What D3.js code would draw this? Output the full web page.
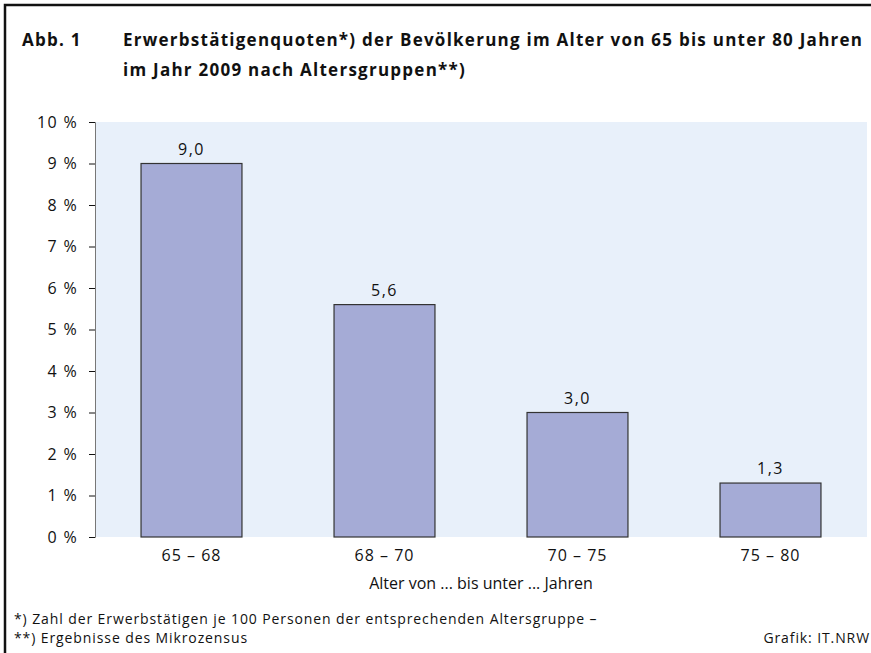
<!DOCTYPE html>
<html>
<head>
<meta charset="utf-8">
<script src="https://cdn.jsdelivr.net/npm/d3@7"></script>
<style>
  body { margin: 0; background: #fff; }
  text { font-family: "Open Sans", "Noto Sans", sans-serif; fill: #111; }
</style>
</head>
<body>
<div id="chart"></div>
<script>
(function () {
    // data
    var categories = ["65 \u2013 68", "68 \u2013 70", "70 \u2013 75", "75 \u2013 80"];
    var values = [9.0, 5.6, 3.0, 1.3];
    var yTicks = [0, 1, 2, 3, 4, 5, 6, 7, 8, 9, 10];

    var width = 871,
        height = 653,
        plot = {left: 95, right: 867, top: 122, bottom: 537};

    var svg = d3.select("#chart").append("svg")
        .attr("width", width)
        .attr("height", height);

    // frame
    svg.append("path")
        .attr("d", "M5," + height + "V5H" + width)
        .attr("fill", "none")
        .attr("stroke", "#111")
        .attr("stroke-width", 2.5);

    // title
    var title = svg.append("g")
        .style("font-weight", "bold")
        .style("font-size", "17px")
        .style("letter-spacing", "1.25px");
    title.append("text").attr("x", 22).attr("y", 46).text("Abb. 1");
    title.append("text").attr("x", 123).attr("y", 46)
        .text("Erwerbstätigenquoten*) der Bevölkerung im Alter von 65 bis unter 80 Jahren");
    title.append("text").attr("x", 123).attr("y", 76)
        .text("im Jahr 2009 nach Altersgruppen**)");

    var x = d3.scaleBand()
        .domain(categories)
        .range([plot.left, plot.right])
        .paddingInner(0.477)
        .paddingOuter(0.2385);

    var y = d3.scaleLinear()
        .domain([0, 10])
        .range([plot.bottom, plot.top]);

    svg.append("rect")
        .attr("x", plot.left)
        .attr("y", plot.top)
        .attr("width", plot.right - plot.left)
        .attr("height", plot.bottom - plot.top)
        .attr("fill", "#e8f0fa");

    // y axis
    var yAxis = svg.append("g")
        .attr("transform", "translate(" + plot.left + ",0)")
        .call(d3.axisLeft(y).tickValues(yTicks).tickSize(6).tickPadding(11)
            .tickFormat(function (d) { return d + " %"; }));
    yAxis.select(".domain").attr("stroke", "#777");
    yAxis.selectAll(".tick line").attr("stroke", "#111");
    yAxis.selectAll("text")
        .style("font-size", "16px")
        .style("letter-spacing", "1.3px")
        .attr("fill", "#111");

    // bars
    svg.append("g").selectAll("rect")
        .data(values)
        .enter().append("rect")
        .attr("x", function (d, i) { return x(categories[i]); })
        .attr("y", function (d) { return y(d); })
        .attr("width", x.bandwidth())
        .attr("height", function (d) { return y(0) - y(d); })
        .attr("fill", "#a5abd6")
        .attr("stroke", "#333")
        .attr("stroke-width", 1.2);

    // value labels
    svg.append("g").selectAll("text")
        .data(values)
        .enter().append("text")
        .attr("x", function (d, i) { return x(categories[i]) + x.bandwidth() / 2; })
        .attr("y", function (d) { return y(d) - 9; })
        .attr("text-anchor", "middle")
        .style("font-size", "16px")
        .style("letter-spacing", "1.5px")
        .text(function (d) { return d3.format(".1f")(d).replace(".", ","); });

    // x axis
    var xAxis = svg.append("g")
        .attr("transform", "translate(0," + plot.bottom + ")")
        .call(d3.axisBottom(x).tickSize(0).tickPadding(13));
    xAxis.select(".domain").remove();
    xAxis.selectAll("text")
        .style("font-size", "16px")
        .style("letter-spacing", "1px")
        .attr("fill", "#111");

    svg.append("text")
        .attr("x", (plot.left + plot.right) / 2)
        .attr("y", 589)
        .attr("text-anchor", "middle")
        .style("font-size", "16px")
        .text("Alter von ... bis unter ... Jahren");

    // footnotes
    var notes = svg.append("g")
        .style("font-size", "14px")
        .style("letter-spacing", "0.9px");
    notes.append("text").attr("x", 14).attr("y", 624)
        .text("*) Zahl der Erwerbstätigen je 100 Personen der entsprechenden Altersgruppe \u2013");
    notes.append("text").attr("x", 14).attr("y", 643)
        .text("**) Ergebnisse des Mikrozensus");
    notes.append("text").attr("x", 870).attr("y", 643)
        .attr("text-anchor", "end")
        .text("Grafik: IT.NRW");
}());
</script>
</body>
</html>
